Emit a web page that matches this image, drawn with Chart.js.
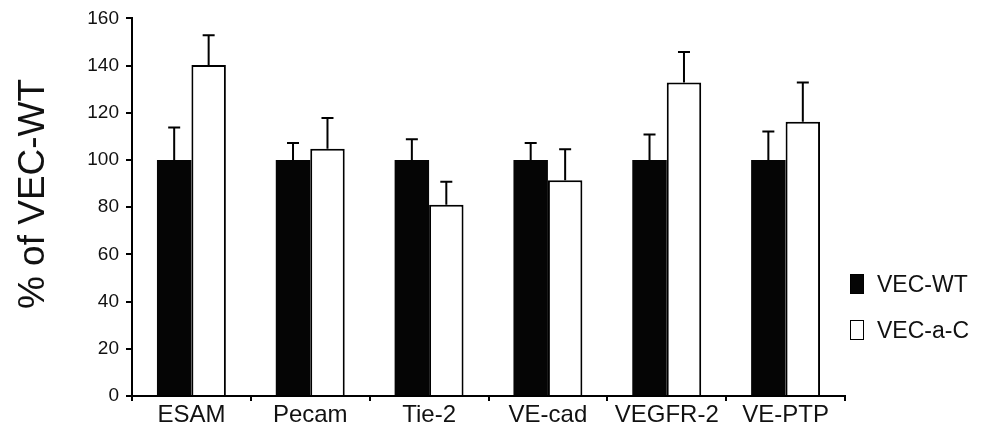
<!DOCTYPE html>
<html>
<head>
<meta charset="utf-8">
<script src="https://cdn.jsdelivr.net/npm/chart.js@4.4.1/dist/chart.umd.min.js"></script>
<style>
  html, body { margin: 0; padding: 0; background: #fff; }
  #wrap { position: relative; width: 983px; height: 426px; }
  #legenda { position: absolute; left: 850px; top: 273px; font-family: "Liberation Sans", Arial, sans-serif; font-size: 23px; color: #111; }
  .item { display: flex; align-items: center; height: 22px; margin-bottom: 24px; }
  .caixa { width: 12px; height: 18px; border: 1px solid #000; margin-right: 13px; box-sizing: content-box; }
</style>
</head>
<body>
<div id="wrap">
  <canvas id="grafico" width="983" height="426"></canvas>
  <div id="legenda">
    <div class="item"><span class="caixa" style="background:#050505"></span>VEC-WT</div>
    <div class="item"><span class="caixa" style="background:#fff"></span>VEC-a-C</div>
  </div>
</div>
<script>
const categorias = ['ESAM', 'Pecam', 'Tie-2', 'VE-cad', 'VEGFR-2', 'VE-PTP'];
const valoresWT = [100, 100, 100, 100, 100, 100];
const erroWT = [13.8, 7.2, 8.8, 7.2, 10.8, 12.1];
const valoresAC = [140.3, 104.8, 81, 91.4, 132.8, 116.2];
const erroAC = [12.6, 13, 9.8, 13.2, 13, 16.6];
const ticksY = [0, 20, 40, 60, 80, 100, 120, 140, 160];
const tituloY = '% of VEC-WT';

const fonte = '"Liberation Sans", Arial, sans-serif';

// barras de erro (só a parte de cima) + título do eixo y
const barrasErro = {
  id: 'barrasErro',
  afterDatasetsDraw(chart) {
    const ctx = chart.ctx;
    const y = chart.scales.y;
    chart.data.datasets.forEach((ds, i) => {
      const meta = chart.getDatasetMeta(i);
      meta.data.forEach((bar, j) => {
        const topo = y.getPixelForValue(ds.data[j] + ds.erro[j]);
        ctx.save();
        ctx.strokeStyle = '#000';
        ctx.lineWidth = 2;
        ctx.beginPath();
        ctx.moveTo(bar.x, bar.y);
        ctx.lineTo(bar.x, topo);
        ctx.moveTo(bar.x - 6, topo);
        ctx.lineTo(bar.x + 6, topo);
        ctx.stroke();
        ctx.restore();
      });
    });
    ctx.save();
    ctx.translate(34, 194);
    ctx.rotate(-Math.PI / 2);
    ctx.font = '37px ' + fonte;
    ctx.fillStyle = '#111';
    ctx.textAlign = 'center';
    ctx.textBaseline = 'middle';
    ctx.fillText(tituloY, 0, 0);
    ctx.restore();
  }
};

const ctx = document.getElementById('grafico').getContext('2d');
const grafico = new Chart(ctx, {
  type: 'bar',
  data: {
    labels: categorias,
    datasets: [{
      label: 'VEC-WT',
      data: valoresWT,
      erro: erroWT,
      backgroundColor: '#050505',
      borderColor: '#000',
      borderWidth: 0
    }, {
      label: 'VEC-a-C',
      data: valoresAC,
      erro: erroAC,
      backgroundColor: '#fff',
      borderColor: '#000',
      borderWidth: 2
    }]
  },
  options: {
    responsive: false,
    animation: false,
    layout: { padding: { top: 13, right: 138, left: 0, bottom: 0 } },
    datasets: { bar: { categoryPercentage: 0.58, barPercentage: 1.0 } },
    plugins: {
      legend: { display: false },
      tooltip: { enabled: false }
    },
    scales: {
      x: {
        grid: { display: true, offset: true, drawOnChartArea: false, drawTicks: true, tickLength: 5, color: '#000', lineWidth: 2 },
        border: { color: '#000', width: 2 },
        ticks: { color: '#111', font: { family: fonte, size: 24 }, padding: 0, maxRotation: 0, autoSkip: false },
        afterFit(s) { s.height = 30; }
      },
      y: {
        min: 0,
        max: 160,
        afterBuildTicks(s) { s.ticks = ticksY.map(v => ({ value: v })); },
        grid: { display: true, drawOnChartArea: false, drawTicks: true, tickLength: 6, color: '#000', lineWidth: 2 },
        border: { color: '#000', width: 2 },
        ticks: { color: '#111', font: { family: fonte, size: 19 }, padding: 7 },
        afterFit(s) { s.width = 132; }
      }
    }
  },
  plugins: [barrasErro]
});
</script>
</body>
</html>
